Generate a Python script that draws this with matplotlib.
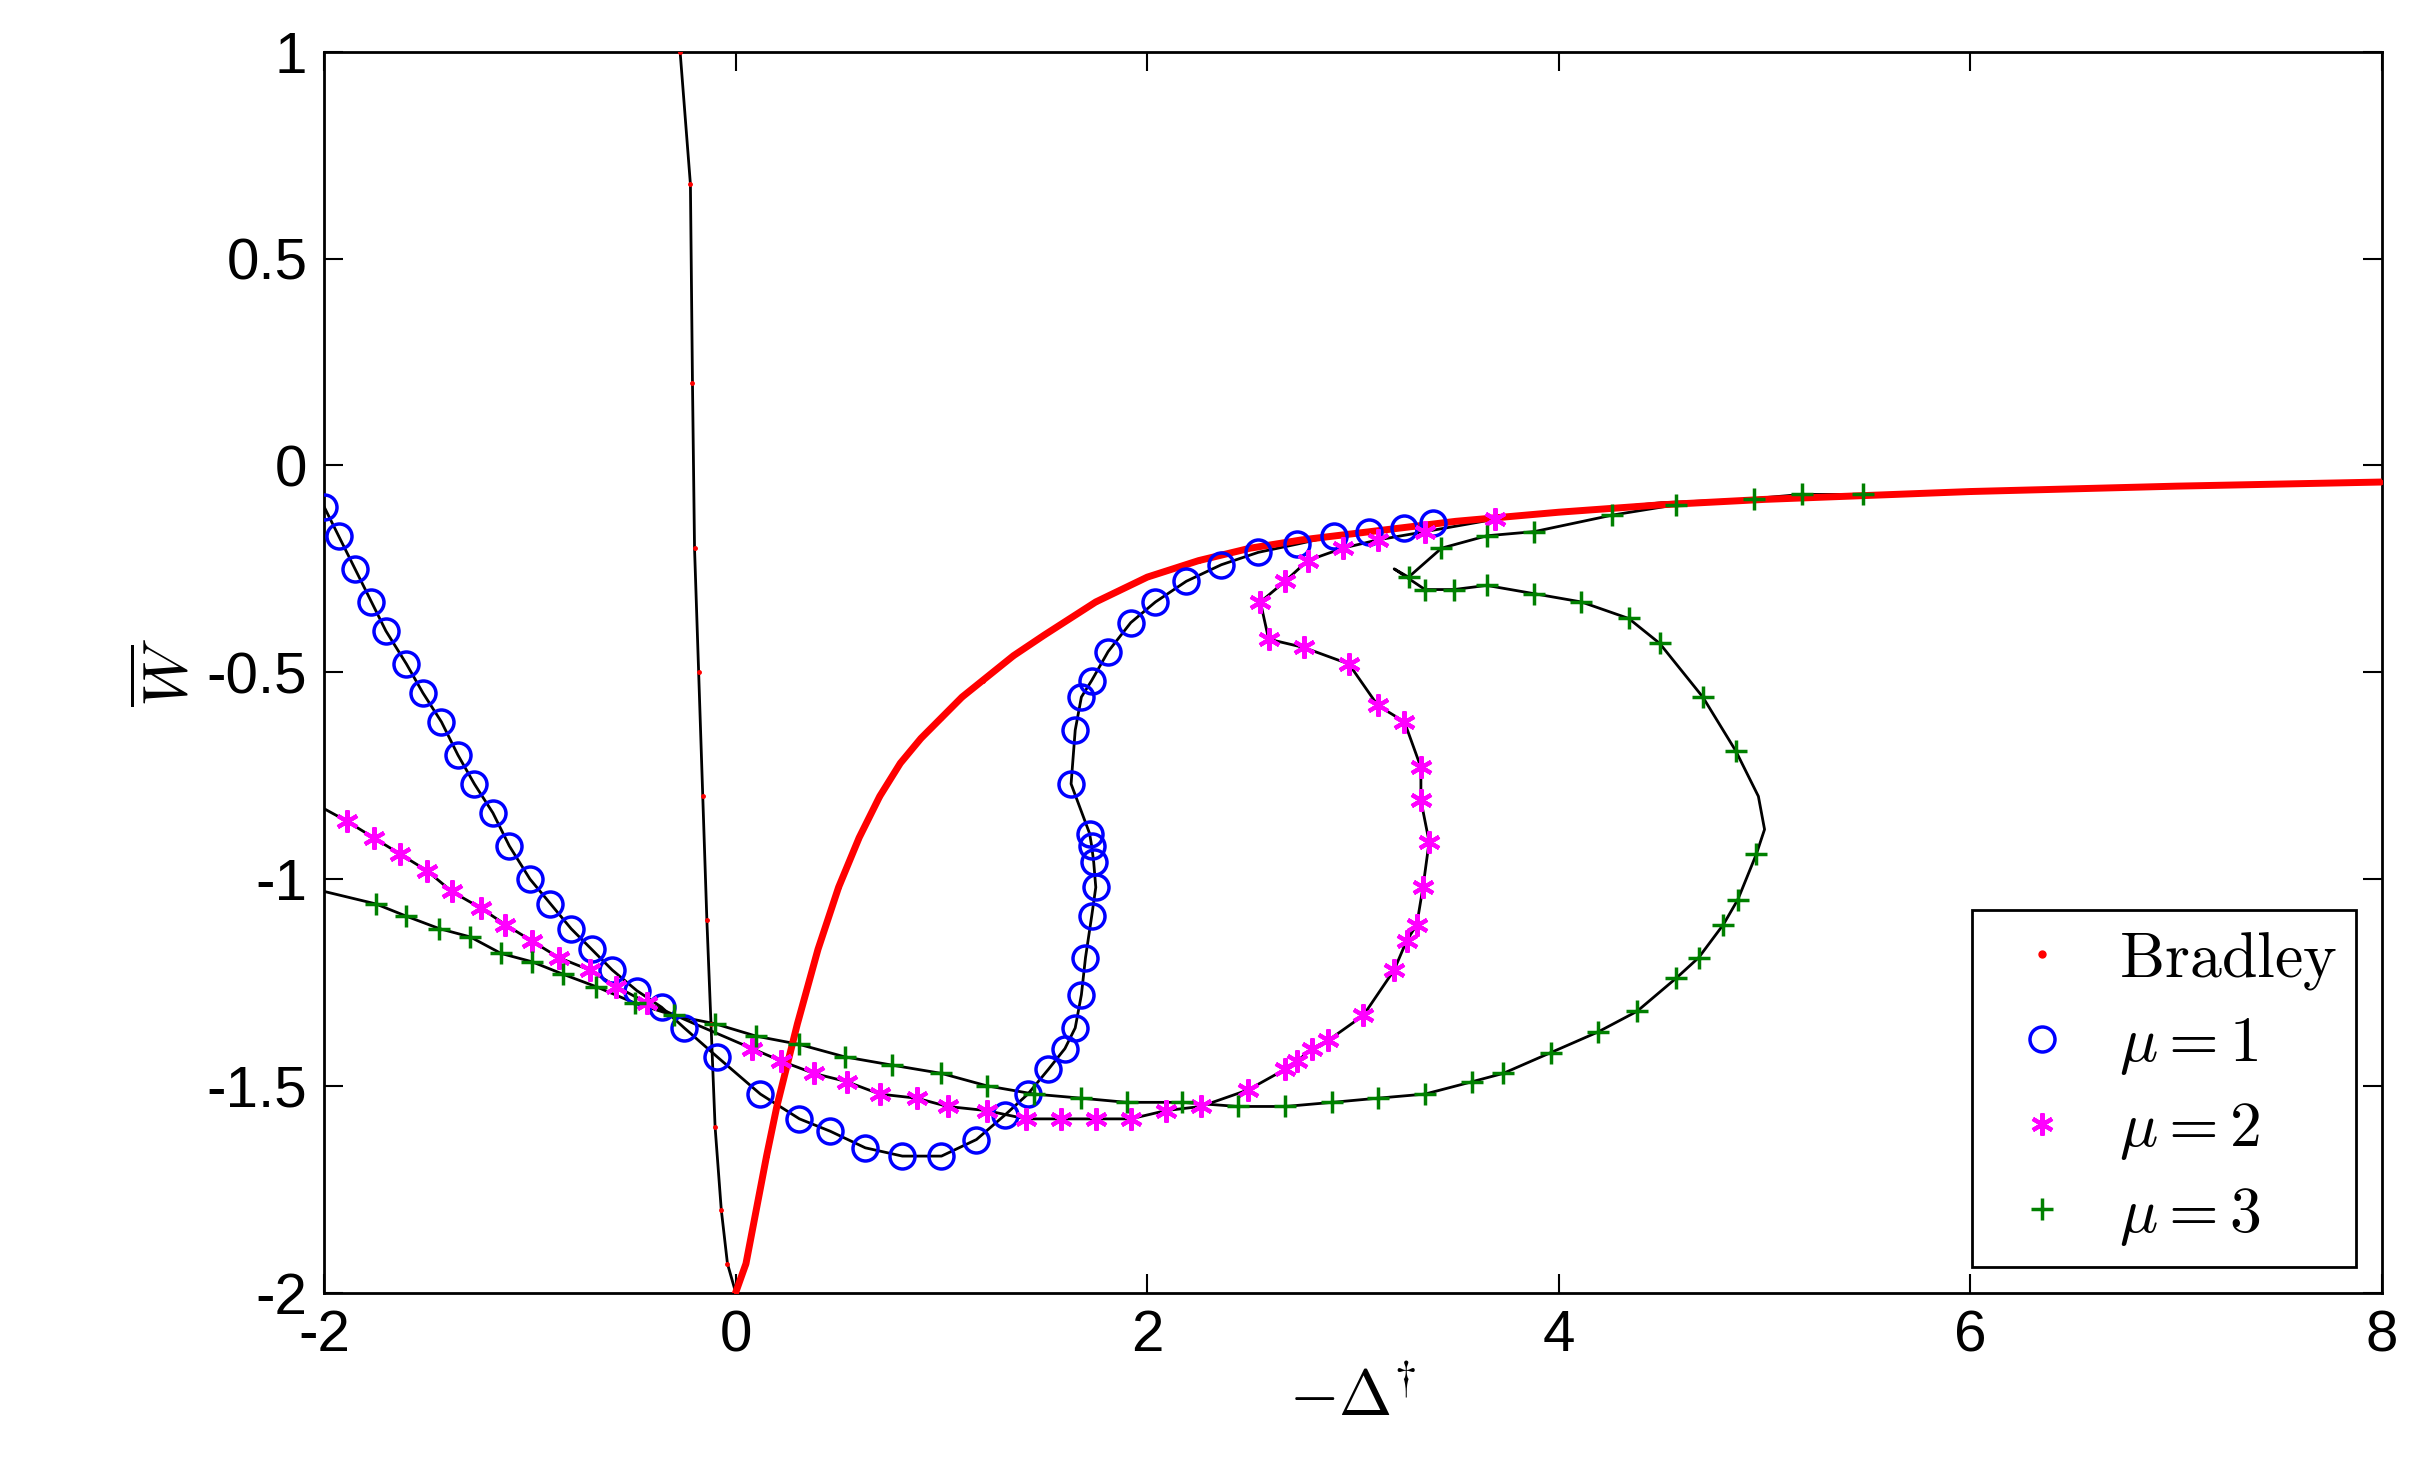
import matplotlib
matplotlib.use("Agg")
import matplotlib.pyplot as plt

plt.rcParams["mathtext.fontset"] = "cm"
plt.rcParams["font.family"] = ["Liberation Sans", "DejaVu Sans"]

# Bradley curve: left (steep) branch and right branch
brad_left_x = [-0.27, -0.22, -0.21, -0.20, -0.18, -0.16, -0.14, -0.12, -0.10, -0.07, -0.04, 0.0]
brad_left_y = [1.0, 0.68, 0.2, -0.2, -0.5, -0.8, -1.1, -1.35, -1.6, -1.8, -1.93, -2.0]
brad_right_x = [0.0, 0.05, 0.1, 0.15, 0.2, 0.3, 0.4, 0.5, 0.6, 0.7, 0.8, 0.9, 1.0, 1.1, 1.2,
                1.35, 1.5, 1.75, 2.0, 2.25, 2.5, 2.75, 3.0, 3.5, 4.0, 4.5, 5.0, 6.0, 7.0, 8.0]
brad_right_y = [-2.0, -1.93, -1.8, -1.67, -1.55, -1.35, -1.17, -1.02, -0.9, -0.8, -0.72, -0.66,
                -0.61, -0.56, -0.52, -0.46, -0.41, -0.33, -0.27, -0.23, -0.2, -0.18, -0.165,
                -0.135, -0.113, -0.095, -0.082, -0.063, -0.05, -0.04]

mu1_x = [-2.0, -1.93, -1.85, -1.77, -1.7, -1.6, -1.52, -1.43, -1.35, -1.27, -1.18, -1.1, -1.0,
         -0.9, -0.8, -0.7, -0.6, -0.48, -0.36, -0.25, -0.09, 0.12, 0.31, 0.46, 0.63, 0.81, 1.0,
         1.17, 1.31, 1.42, 1.52, 1.6, 1.65, 1.68, 1.7, 1.73, 1.75, 1.74, 1.73, 1.72, 1.63, 1.65,
         1.68, 1.73, 1.81, 1.92, 2.04, 2.19, 2.36, 2.54, 2.73, 2.91, 3.08, 3.25, 3.39]
mu1_y = [-0.1, -0.17, -0.25, -0.33, -0.4, -0.48, -0.55, -0.62, -0.7, -0.77, -0.84, -0.92, -1.0,
         -1.06, -1.12, -1.17, -1.22, -1.27, -1.31, -1.36, -1.43, -1.52, -1.58, -1.61, -1.65,
         -1.67, -1.67, -1.63, -1.57, -1.52, -1.46, -1.41, -1.36, -1.28, -1.19, -1.09, -1.02,
         -0.96, -0.92, -0.89, -0.77, -0.64, -0.56, -0.52, -0.45, -0.38, -0.33, -0.28, -0.24,
         -0.21, -0.19, -0.17, -0.16, -0.15, -0.14]

mu2_x = [-1.89, -1.76, -1.63, -1.5, -1.38, -1.24, -1.12, -0.99, -0.86, -0.71, -0.58, -0.43,
         0.08, 0.22, 0.38, 0.54, 0.7, 0.88, 1.03, 1.22, 1.41, 1.58, 1.75, 1.92, 2.09, 2.26, 2.49,
         2.67, 2.73, 2.8, 2.88, 3.05, 3.2, 3.26, 3.31, 3.34, 3.37, 3.33, 3.33, 3.25, 3.12, 2.98,
         2.76, 2.59, 2.55, 2.67, 2.78, 2.95, 3.12, 3.35, 3.69]
mu2_y = [-0.86, -0.9, -0.94, -0.98, -1.03, -1.07, -1.11, -1.15, -1.19, -1.22, -1.26, -1.3,
         -1.41, -1.44, -1.47, -1.49, -1.52, -1.53, -1.55, -1.56, -1.58, -1.58, -1.58, -1.58,
         -1.56, -1.55, -1.51, -1.46, -1.44, -1.41, -1.39, -1.33, -1.22, -1.15, -1.11, -1.02,
         -0.91, -0.81, -0.73, -0.62, -0.58, -0.48, -0.44, -0.42, -0.33, -0.28, -0.23, -0.2,
         -0.18, -0.16, -0.13]

mu3_x = [-1.75, -1.6, -1.44, -1.29, -1.14, -0.99, -0.84, -0.68, -0.49, -0.3, -0.1, 0.1, 0.31,
         0.53, 0.76, 1.0, 1.22, 1.45, 1.68, 1.9, 2.17, 2.44, 2.67, 2.9, 3.12, 3.35, 3.58, 3.73,
         3.96, 4.19, 4.38, 4.57, 4.68, 4.8, 4.87, 4.96, 4.86, 4.7, 4.49, 4.34, 4.11, 3.88, 3.65,
         3.49, 3.35, 3.27, 3.43, 3.65, 3.88, 4.26, 4.57, 4.95, 5.18, 5.48]
mu3_y = [-1.06, -1.09, -1.12, -1.14, -1.18, -1.2, -1.23, -1.26, -1.3, -1.33, -1.35, -1.38, -1.4,
         -1.43, -1.45, -1.47, -1.5, -1.52, -1.53, -1.54, -1.54, -1.55, -1.55, -1.54, -1.53,
         -1.52, -1.49, -1.47, -1.42, -1.37, -1.32, -1.24, -1.19, -1.11, -1.05, -0.94, -0.69,
         -0.56, -0.43, -0.37, -0.33, -0.31, -0.29, -0.3, -0.3, -0.27, -0.2, -0.17, -0.16,
         -0.12, -0.095, -0.08, -0.07, -0.07]

# black reference lines (start at the left edge, turning points added)
line1_x, line1_y = mu1_x, mu1_y
line2_x = [-2.0] + mu2_x[:12] + [-0.2] + mu2_x[12:] + [4.5, 6.0]
line2_y = [-0.83] + mu2_y[:12] + [-1.35] + mu2_y[12:] + [-0.09, -0.06]
line3_x = [-2.0] + mu3_x[:36] + [5.0, 4.97] + mu3_x[36:45] + [3.2] + mu3_x[45:]
line3_y = [-1.03] + mu3_y[:36] + [-0.88, -0.8] + mu3_y[36:45] + [-0.25] + mu3_y[45:]

fig = plt.figure(figsize=(24.28, 14.84), dpi=100)
ax = fig.add_axes([0.1335, 0.129, 0.8475, 0.836])

ax.plot(brad_left_x, brad_left_y, color="black", lw=2)
ax.plot(line1_x, line1_y, color="black", lw=2)
ax.plot(line2_x, line2_y, color="black", lw=2)
ax.plot(line3_x, line3_y, color="black", lw=2)

ax.plot(brad_right_x, brad_right_y, color="red", lw=5, zorder=3)
ax.plot(brad_left_x + brad_right_x, brad_left_y + brad_right_y, ".", color="red", ms=5,
        zorder=3, label="Bradley")
ax.plot(mu1_x, mu1_y, "o", mfc="none", mec="blue", ms=18, mew=2.5, zorder=4,
        label=r"$\mu = 1$")
ax.plot(mu2_x, mu2_y, marker=(6, 2, 0), ls="none", color="magenta", ms=16, mew=3, zorder=4,
        label=r"$\mu = 2$")
ax.plot(mu3_x, mu3_y, "+", color="green", ms=16, mew=2.5, zorder=4, label=r"$\mu = 3$")

ax.set_xlim(-2, 8)
ax.set_ylim(-2, 1)
ax.set_xticks([-2, 0, 2, 4, 6, 8])
ax.set_yticks([-2, -1.5, -1, -0.5, 0, 0.5, 1])
ax.set_yticklabels(["-2", "-1.5", "-1", "-0.5", "0", "0.5", "1"])
ax.set_xticklabels(["-2", "0", "2", "4", "6", "8"])
ax.tick_params(direction="in", length=14, width=1.5, labelsize=42, top=True, right=True, pad=12)
for s in ax.spines.values():
    s.set_linewidth(2)
ax.set_xlabel(r"$-\Delta^{\dagger}$", fontsize=46)
ax.set_ylabel(r"$\overline{W}$", fontsize=46)

leg = ax.legend(loc="lower right", fontsize=46, fancybox=False, edgecolor="black",
                framealpha=1, handletextpad=0.4, borderaxespad=0.4, borderpad=0.3,
                labelspacing=0.35, handlelength=1.6)
leg.get_frame().set_linewidth(2)
leg.get_texts()[0].set_text(r"$\mathrm{Bradley}$")
leg.legend_handles[0].set_markersize(10)

fig.savefig("out.png", dpi=100)
